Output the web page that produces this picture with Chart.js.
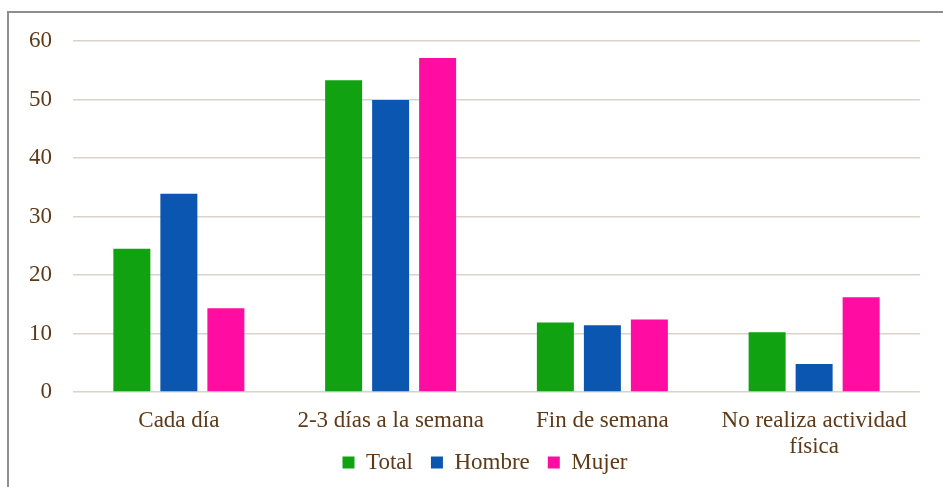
<!DOCTYPE html>
<html>
<head>
<meta charset="utf-8">
<script src="https://cdn.jsdelivr.net/npm/chart.js@4"></script>
<style>
  html, body { margin: 0; padding: 0; background: #fff; overflow: hidden; }
  #wrap { position: relative; width: 943px; height: 487px; }
  #frame { position: absolute; left: 7px; top: 11px; width: 1000px; height: 1000px; border: 2px solid #8e8e8e; box-sizing: border-box; }
  canvas { position: absolute; left: 0; top: 0; }
</style>
</head>
<body>
<div id="wrap">
  <div id="frame"></div>
  <canvas id="chart" width="943" height="487"></canvas>
</div>
<script>
const categories = ["Cada día", "2-3 días a la semana", "Fin de semana", ["No realiza actividad", "física"]];
const totalValues = [24.5, 53.3, 11.9, 10.2];
const hombreValues = [33.9, 49.9, 11.4, 4.8];
const mujerValues = [14.3, 57.1, 12.4, 16.2];
const yTicks = [0, 10, 20, 30, 40, 50, 60];

const textColor = "#5e3a18";
Chart.defaults.font.family = "'Liberation Serif', 'Times New Roman', serif";
Chart.defaults.font.size = 23;
Chart.defaults.color = textColor;

// the legend sits beside the second line of the last label, like in the original
const legendShift = {
  id: "legendShift",
  afterLayout(chart) {
    chart.legend.top -= 27;
    chart.legend.left += 42;
  },
};

const ctx = document.getElementById("chart").getContext("2d");
new Chart(ctx, {
  type: "bar",
  data: {
    labels: categories,
    datasets: [
      { label: "Total", data: totalValues, backgroundColor: "#11a211" },
      { label: "Hombre", data: hombreValues, backgroundColor: "#0b56b0" },
      { label: "Mujer", data: mujerValues, backgroundColor: "#ff0ca2" },
    ],
  },
  plugins: [legendShift],
  options: {
    responsive: false,
    animation: false,
    categoryPercentage: 0.666,
    barPercentage: 0.787,
    layout: { padding: { left: 8, right: 23, top: 41, bottom: 0 } },
    plugins: {
      legend: {
        position: "bottom",
        maxHeight: 27,
        labels: { boxWidth: 12, boxHeight: 12, padding: 18, color: textColor },
      },
      tooltip: { enabled: false },
    },
    scales: {
      x: {
        grid: { display: false, drawTicks: false },
        border: { display: false },
        ticks: { maxRotation: 0, padding: 16, color: textColor, font: { lineHeight: 1.13 } },
        afterFit: (scale) => {
          scale.height = 68;
        },
      },
      y: {
        min: 0,
        max: 60,
        afterBuildTicks: (axis) => {
          axis.ticks = yTicks.map((v) => ({ value: v }));
        },
        grid: { color: "#dad3ca", lineWidth: 1.5, drawTicks: false },
        border: { display: false },
        ticks: { padding: 21, color: textColor },
      },
    },
  },
});
</script>
</body>
</html>
